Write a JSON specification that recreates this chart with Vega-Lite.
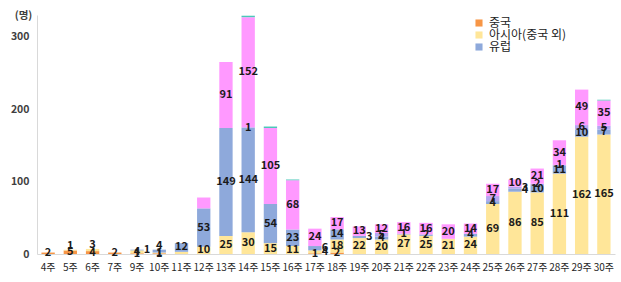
{
  "$schema": "https://vega.github.io/schema/vega-lite/v6.json",
  "width": 578,
  "height": 239,
  "autosize": "none",
  "padding": {"left": 37, "top": 15, "right": 6, "bottom": 28},
  "background": "white",
  "config": {"view": {"stroke": null}, "font": "Noto Sans CJK KR"},
  "datasets": {
    "order": [
      {"region": "중국", "k": 1},
      {"region": "아시아(중국 외)", "k": 2},
      {"region": "유럽", "k": 3},
      {"region": "아프리카", "k": 4},
      {"region": "미주", "k": 5},
      {"region": "호주", "k": 6}
    ]
  },
  "data": {"values": [
    {"week": "4주", "region": "중국", "n": 2},
    {"week": "5주", "region": "중국", "n": 5},
    {"week": "5주", "region": "아시아(중국 외)", "n": 1},
    {"week": "6주", "region": "중국", "n": 4},
    {"week": "6주", "region": "아시아(중국 외)", "n": 3},
    {"week": "7주", "region": "중국", "n": 2},
    {"week": "9주", "region": "중국", "n": 1},
    {"week": "9주", "region": "아시아(중국 외)", "n": 4},
    {"week": "9주", "region": "유럽", "n": 1},
    {"week": "10주", "region": "중국", "n": 1},
    {"week": "10주", "region": "아시아(중국 외)", "n": 1},
    {"week": "10주", "region": "유럽", "n": 4},
    {"week": "11주", "region": "아시아(중국 외)", "n": 3},
    {"week": "11주", "region": "유럽", "n": 12},
    {"week": "12주", "region": "아시아(중국 외)", "n": 10},
    {"week": "12주", "region": "유럽", "n": 53},
    {"week": "12주", "region": "미주", "n": 15},
    {"week": "13주", "region": "아시아(중국 외)", "n": 25},
    {"week": "13주", "region": "유럽", "n": 149},
    {"week": "13주", "region": "미주", "n": 91},
    {"week": "14주", "region": "아시아(중국 외)", "n": 30},
    {"week": "14주", "region": "유럽", "n": 144},
    {"week": "14주", "region": "아프리카", "n": 1},
    {"week": "14주", "region": "미주", "n": 152},
    {"week": "14주", "region": "호주", "n": 2},
    {"week": "15주", "region": "아시아(중국 외)", "n": 15},
    {"week": "15주", "region": "유럽", "n": 54},
    {"week": "15주", "region": "미주", "n": 105},
    {"week": "15주", "region": "호주", "n": 2},
    {"week": "16주", "region": "아시아(중국 외)", "n": 11},
    {"week": "16주", "region": "유럽", "n": 23},
    {"week": "16주", "region": "미주", "n": 68},
    {"week": "16주", "region": "호주", "n": 1},
    {"week": "17주", "region": "중국", "n": 1},
    {"week": "17주", "region": "아시아(중국 외)", "n": 4},
    {"week": "17주", "region": "유럽", "n": 6},
    {"week": "17주", "region": "미주", "n": 24},
    {"week": "18주", "region": "중국", "n": 2},
    {"week": "18주", "region": "아시아(중국 외)", "n": 18},
    {"week": "18주", "region": "유럽", "n": 14},
    {"week": "18주", "region": "미주", "n": 17},
    {"week": "19주", "region": "아시아(중국 외)", "n": 22},
    {"week": "19주", "region": "유럽", "n": 3},
    {"week": "19주", "region": "미주", "n": 13},
    {"week": "20주", "region": "아시아(중국 외)", "n": 20},
    {"week": "20주", "region": "유럽", "n": 4},
    {"week": "20주", "region": "아프리카", "n": 5},
    {"week": "20주", "region": "미주", "n": 12},
    {"week": "21주", "region": "아시아(중국 외)", "n": 27},
    {"week": "21주", "region": "유럽", "n": 1},
    {"week": "21주", "region": "미주", "n": 16},
    {"week": "22주", "region": "아시아(중국 외)", "n": 25},
    {"week": "22주", "region": "유럽", "n": 2},
    {"week": "22주", "region": "미주", "n": 16},
    {"week": "23주", "region": "아시아(중국 외)", "n": 21},
    {"week": "23주", "region": "미주", "n": 20},
    {"week": "24주", "region": "아시아(중국 외)", "n": 24},
    {"week": "24주", "region": "유럽", "n": 4},
    {"week": "24주", "region": "미주", "n": 14},
    {"week": "25주", "region": "아시아(중국 외)", "n": 69},
    {"week": "25주", "region": "유럽", "n": 4},
    {"week": "25주", "region": "아프리카", "n": 7},
    {"week": "25주", "region": "미주", "n": 17},
    {"week": "26주", "region": "아시아(중국 외)", "n": 86},
    {"week": "26주", "region": "유럽", "n": 4},
    {"week": "26주", "region": "아프리카", "n": 3},
    {"week": "26주", "region": "미주", "n": 10},
    {"week": "27주", "region": "아시아(중국 외)", "n": 85},
    {"week": "27주", "region": "유럽", "n": 10},
    {"week": "27주", "region": "아프리카", "n": 2},
    {"week": "27주", "region": "미주", "n": 21},
    {"week": "28주", "region": "아시아(중국 외)", "n": 111},
    {"week": "28주", "region": "유럽", "n": 11},
    {"week": "28주", "region": "아프리카", "n": 1},
    {"week": "28주", "region": "미주", "n": 34},
    {"week": "29주", "region": "아시아(중국 외)", "n": 162},
    {"week": "29주", "region": "유럽", "n": 10},
    {"week": "29주", "region": "아프리카", "n": 6},
    {"week": "29주", "region": "미주", "n": 49},
    {"week": "30주", "region": "아시아(중국 외)", "n": 165},
    {"week": "30주", "region": "유럽", "n": 7},
    {"week": "30주", "region": "아프리카", "n": 5},
    {"week": "30주", "region": "미주", "n": 35},
    {"week": "30주", "region": "호주", "n": 1}
  ]},
  "transform": [
    {"lookup": "region", "from": {"data": {"name": "order"}, "key": "region", "fields": ["k"]}},
    {"stack": "n", "groupby": ["week"], "sort": [{"field": "k", "order": "ascending"}], "as": ["y0", "y1"]},
    {"calculate": "(datum.y0 + datum.y1) / 2", "as": "ymid"},
    {"calculate": "datum.week + '|' + datum.region", "as": "key"}
  ],
  "encoding": {
    "x": {
      "field": "week", "type": "nominal",
      "scale": {"domain": ["4주","5주","6주","7주","9주","10주","11주","12주","13주","14주","15주","16주","17주","18주","19주","20주","21주","22주","23주","24주","25주","26주","27주","28주","29주","30주"], "paddingInner": 0.4, "paddingOuter": 0.2},
      "axis": {"title": null, "labelAngle": 0, "labelFontSize": 10, "labelColor": "#262626", "labelPadding": 8, "ticks": false, "domainColor": "#d9d9d9", "domainWidth": 1}
    }
  },
  "layer": [
    {
      "mark": {"type": "bar"},
      "encoding": {
        "y": {
          "field": "y0", "type": "quantitative",
          "scale": {"domain": [0, 330], "nice": false},
          "axis": {"values": [0, 50, 100, 150, 200, 250, 300], "grid": false, "ticks": false, "domainColor": "#d9d9d9", "labelFontSize": 10.5, "labelFontWeight": "bold", "labelColor": "#404040", "labelPadding": 8, "title": "(명)", "titleAngle": 0, "titleFontSize": 10.5, "titleFontWeight": "bold", "titleColor": "#404040", "titleX": -14, "titleY": 0, "titleAlign": "center", "titleBaseline": "middle"}
        },
        "y2": {"field": "y1"},
        "color": {
          "field": "region", "type": "nominal",
          "scale": {"domain": ["중국", "아시아(중국 외)", "유럽", "아프리카", "미주", "호주"], "range": ["#F79646", "#FFE699", "#8EA9DB", "#B4A7F0", "#FF99FF", "#4BC8B8"]},
          "legend": {"values": ["중국", "아시아(중국 외)", "유럽"], "title": null, "orient": "none", "legendX": 436, "legendY": 2, "symbolType": "square", "symbolSize": 50, "symbolStrokeWidth": 0, "labelFontSize": 12, "labelColor": "#222222", "rowPadding": 0, "labelOffset": 4}
        }
      }
    },
    {
      "transform": [{"filter": "datum.region != '호주' && indexof(['12주|미주','11주|아시아(중국 외)','5주|아시아(중국 외)','6주|아시아(중국 외)','10주|유럽','19주|유럽','26주|아프리카','26주|유럽','17주|유럽','9주|유럽','17주|아시아(중국 외)'], datum.key) < 0"}],
      "mark": {"type": "text", "fontSize": 11, "fontWeight": "bold", "color": "#1a1a1a", "baseline": "middle"},
      "encoding": {
        "y": {"field": "ymid", "type": "quantitative"},
        "text": {"field": "n", "type": "quantitative"}
      }
    },
    {
      "transform": [{"filter": "indexof(['5주|아시아(중국 외)','6주|아시아(중국 외)','10주|유럽'], datum.key) >= 0"}],
      "mark": {"type": "text", "fontSize": 11, "fontWeight": "bold", "color": "#1a1a1a", "baseline": "bottom", "dy": 1},
      "encoding": {
        "y": {"field": "y1", "type": "quantitative"},
        "text": {"field": "n", "type": "quantitative"}
      }
    },
    {
      "transform": [{"filter": "indexof(['19주|유럽','26주|아프리카','26주|유럽','17주|유럽','9주|유럽','17주|아시아(중국 외)'], datum.key) >= 0"}],
      "mark": {"type": "text", "fontSize": 11, "fontWeight": "bold", "color": "#1a1a1a", "baseline": "middle", "dx": 10},
      "encoding": {
        "y": {"field": "ymid", "type": "quantitative"},
        "text": {"field": "n", "type": "quantitative"}
      }
    }
  ]
}
